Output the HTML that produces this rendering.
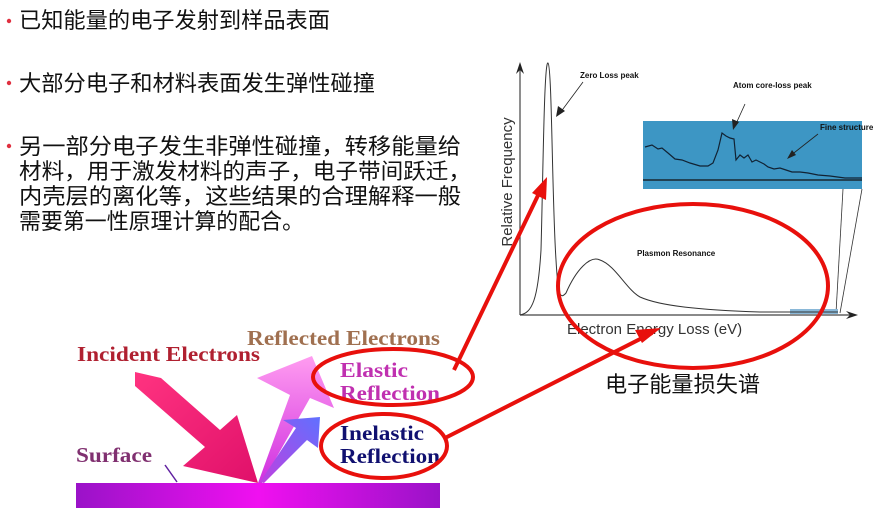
<!DOCTYPE html>
<html><head><meta charset="utf-8"><style>
body{margin:0;width:885px;height:510px;background:#fff;overflow:hidden;}
svg{display:block}
.cn{font-family:"Liberation Sans","Noto Sans CJK SC",sans-serif;font-size:22px;fill:#111}
.b{font-family:"Liberation Serif",serif;font-weight:bold}
.s{font-family:"Liberation Sans",sans-serif;font-size:8px;fill:#111;font-weight:bold}
</style></head><body>
<svg width="885" height="510" viewBox="0 0 885 510">
<defs>
<linearGradient id="sg" x1="0" x2="1"><stop offset="0" stop-color="#9a12c8"/><stop offset="0.5" stop-color="#f010f0"/><stop offset="1" stop-color="#9a12c8"/></linearGradient>
<linearGradient id="ig" x1="0" y1="0" x2="1" y2="1"><stop offset="0" stop-color="#ff3380"/><stop offset="1" stop-color="#e0106a"/></linearGradient>
<linearGradient id="eg" x1="0" y1="1" x2="0" y2="0"><stop offset="0" stop-color="#d030e0"/><stop offset="1" stop-color="#ff9cf0"/></linearGradient>
<linearGradient id="bg" x1="0" y1="1" x2="1" y2="0"><stop offset="0" stop-color="#c040e0"/><stop offset="1" stop-color="#6070ff"/></linearGradient>
</defs>
<g fill="#e03040"><circle cx="9" cy="21" r="2.2"/><circle cx="9" cy="83" r="2.2"/><circle cx="9" cy="146" r="2.2"/></g>
<g class="cn">
<text class="cn" x="19" y="28" textLength="311" lengthAdjust="spacingAndGlyphs">已知能量的电子发射到样品表面</text>
<text class="cn" x="19" y="91" textLength="356" lengthAdjust="spacingAndGlyphs">大部分电子和材料表面发生弹性碰撞</text>
<text class="cn" x="19" y="154" textLength="442" lengthAdjust="spacingAndGlyphs">另一部分电子发生非弹性碰撞，转移能量给</text>
<text class="cn" x="19" y="179" textLength="452" lengthAdjust="spacingAndGlyphs">材料，用于激发材料的声子，电子带间跃迁，</text>
<text class="cn" x="19" y="204" textLength="442" lengthAdjust="spacingAndGlyphs">内壳层的离化等，这些结果的合理解释一般</text>
<text class="cn" x="19" y="229" textLength="285" lengthAdjust="spacingAndGlyphs">需要第一性原理计算的配合。</text>
</g>
<rect x="643" y="121" width="219" height="68" fill="#3d96c4"/>
<line x1="643" y1="180" x2="862" y2="180" stroke="#111" stroke-width="1.2"/>
<polyline fill="none" stroke="#123" stroke-width="1.2" points="645,147 652,145 658,149 662,148 668,153 675,159 682,160 690,163 700,166 708,166 713,163 718,150 722,133 726,136 730,138 734,139 736,160 740,155 744,158 748,155 752,162 756,160 760,162 764,164 768,167 774,169 780,168 786,170 792,172 800,172 808,173 818,175 830,176 845,178 862,178"/>
<line x1="843" y1="189" x2="836" y2="313" stroke="#333" stroke-width="0.8"/>
<line x1="862" y1="189" x2="840" y2="313" stroke="#333" stroke-width="0.8"/>
<rect x="790" y="309" width="48" height="5" fill="#8ab8d8"/>
<line x1="520" y1="315" x2="520" y2="66" stroke="#444" stroke-width="1.2"/>
<path d="M516,74 L520,62 L524,74 L520,70Z" fill="#222"/>
<line x1="520" y1="315" x2="855" y2="315" stroke="#444" stroke-width="1.2"/>
<path d="M846,311 L858,315 L846,319 L850,315Z" fill="#222"/>
<path d="M520,315 C532,313 538,300 541,250 C543,180 544,60 548,63 C552,66 552,200 556,260 C558,295 560,300 566,293 C576,270 590,255 600,260 C615,265 627,290 640,297 C660,306 700,310 760,312 L838,312" fill="none" stroke="#333" stroke-width="1"/>
<text x="520" y="190" transform="rotate(-90 512 190)" font-family="Liberation Sans,sans-serif" font-size="15" fill="#333" text-anchor="middle">Relative Frequency</text>
<text x="567" y="334" font-family="Liberation Sans,sans-serif" font-size="15" fill="#333">Electron Energy Loss (eV)</text>
<text class="s" x="580" y="78">Zero Loss peak</text>
<line x1="583" y1="82" x2="560" y2="113" stroke="#222" stroke-width="0.8"/><path d="M556,117 L558,106 L565,111Z" fill="#222"/>
<text class="s" x="733" y="88">Atom core-loss peak</text>
<line x1="745" y1="104" x2="735" y2="126" stroke="#222" stroke-width="0.8"/><path d="M733,130 L732,119 L739,122Z" fill="#222"/>
<text class="s" x="820" y="130">Fine structure</text>
<line x1="818" y1="134" x2="790" y2="156" stroke="#222" stroke-width="0.8"/><path d="M787,159 L792,150 L796,155Z" fill="#222"/>
<text class="s" x="637" y="256">Plasmon Resonance</text>
<text class="cn" x="605" y="392" textLength="155" lengthAdjust="spacingAndGlyphs">电子能量损失谱</text>
<rect x="76" y="483" width="364" height="25" fill="url(#sg)"/>
<line x1="165" y1="465" x2="177" y2="482" stroke="#6020a0" stroke-width="1.5"/>
<polygon points="135,372 161,378 220,430 237,415 258,483 183,466 205,447 135,386" fill="url(#ig)"/>
<polygon points="258,483 290,395 257,378 312,356 334,408 310,398 262,483" fill="url(#eg)"/>
<polygon points="260,482 296,428 283,420 320,417 318,448 307,440 264,483" fill="url(#bg)"/>
<g font-size="21">
<text class="b" x="247" y="345" font-size="21" fill="#a07050" textLength="193" lengthAdjust="spacingAndGlyphs">Reflected Electrons</text>
<text class="b" x="77" y="361" font-size="21" fill="#b02030" textLength="183" lengthAdjust="spacingAndGlyphs">Incident Electrons</text>
<text class="b" x="340" y="377" font-size="21" fill="#c030b0" textLength="68" lengthAdjust="spacingAndGlyphs">Elastic</text>
<text class="b" x="340" y="400" font-size="21" fill="#c030b0" textLength="100" lengthAdjust="spacingAndGlyphs">Reflection</text>
<text class="b" x="340" y="440" font-size="21" fill="#101070" textLength="84" lengthAdjust="spacingAndGlyphs">Inelastic</text>
<text class="b" x="340" y="463" font-size="21" fill="#101070" textLength="100" lengthAdjust="spacingAndGlyphs">Reflection</text>
<text class="b" x="76" y="462" font-size="21" fill="#803070" textLength="76" lengthAdjust="spacingAndGlyphs">Surface</text>
</g>
<g fill="none" stroke="#e8100c" stroke-width="4">
<ellipse cx="393" cy="377" rx="80" ry="28"/>
<ellipse cx="384" cy="446" rx="63" ry="32"/>
<ellipse cx="693" cy="286" rx="135" ry="82"/>
<line x1="454" y1="370" x2="543" y2="185"/>
<line x1="445" y1="438" x2="652" y2="333"/>
</g>
<g fill="#e8100c">
<polygon points="547,177 546,200 532,193"/>
<polygon points="661,328 642,343 635,330"/>
</g>
</svg>
</body></html>
